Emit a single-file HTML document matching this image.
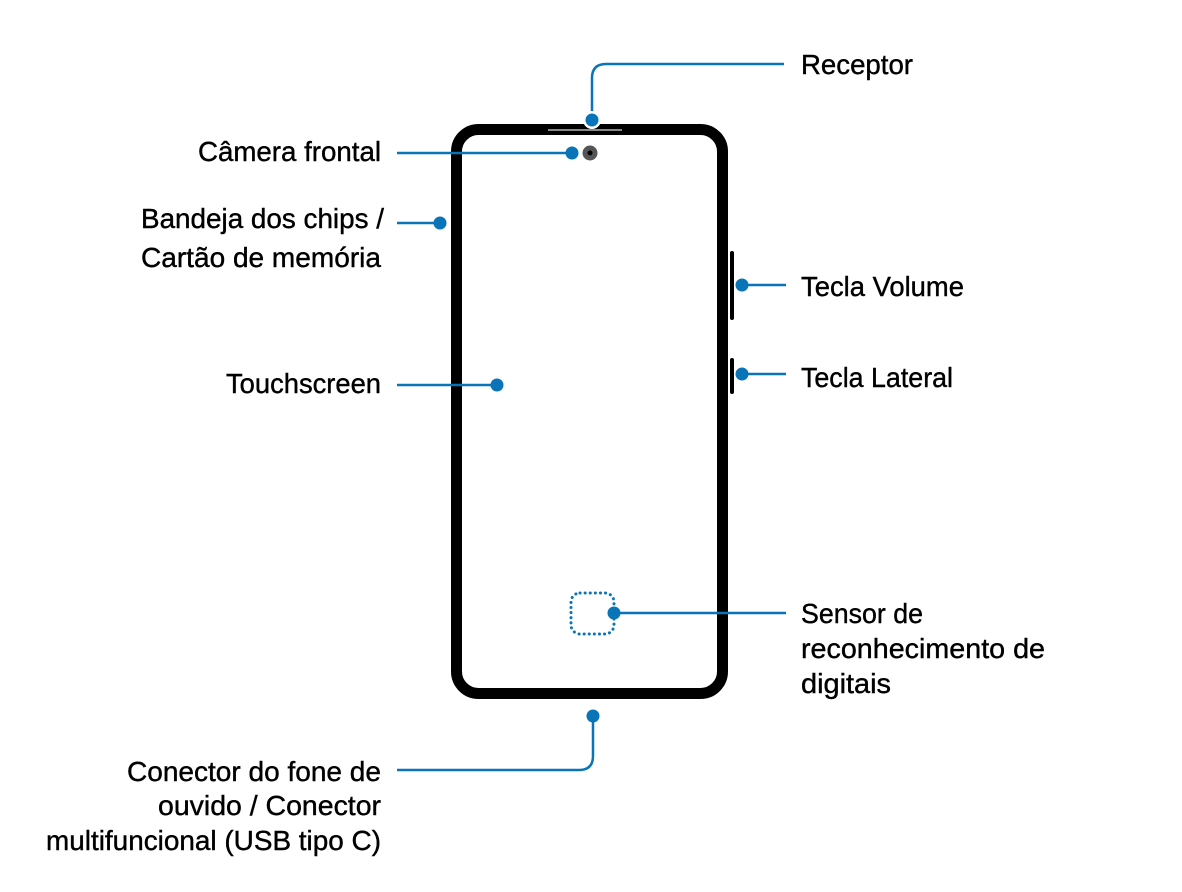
<!DOCTYPE html>
<html><head><meta charset="utf-8"><style>
html,body{margin:0;padding:0;background:#fff;}
svg{display:block;}
text{font-family:"Liberation Sans",sans-serif;font-size:28px;fill:#000;stroke:#000;stroke-width:0.4;}
</style></head><body>
<svg width="1182" height="892" viewBox="0 0 1182 892">
<rect x="456.5" y="129.5" width="266" height="564" rx="22" fill="none" stroke="#000" stroke-width="11"/>
<line x1="548" y1="130" x2="622" y2="130" stroke="#888" stroke-width="2"/>
<rect x="730" y="251" width="4" height="69" rx="2" fill="#000"/>
<rect x="730" y="358" width="4" height="36" rx="2" fill="#000"/>
<circle cx="590" cy="153" r="7.5" fill="#555"/>
<circle cx="590" cy="153" r="2.5" fill="#000"/>
<rect x="571" y="593" width="43" height="41" rx="9" fill="none" stroke="#0a74b8" stroke-width="3" stroke-dasharray="0.1 5" stroke-linecap="round"/>
<g stroke="#0a74b8" stroke-width="2.5" fill="none">
<path d="M784 64 H606 Q592 64 592 78 V120"/>
<path d="M397 153 H570"/>
<path d="M397 223 H440"/>
<path d="M397 385 H497"/>
<path d="M742 285 H786"/>
<path d="M742 374 H786"/>
<path d="M614 613 H786"/>
<path d="M593 716 V756 Q593 770 579 770 H397"/>
</g>
<circle cx="592" cy="120" r="9" fill="#fff"/>
<g fill="#0a74b8">
<circle cx="592" cy="120" r="6.5"/>
<circle cx="572" cy="153" r="6.5"/>
<circle cx="440" cy="223" r="6.5"/>
<circle cx="497" cy="385" r="6.5"/>
<circle cx="742" cy="285" r="6.5"/>
<circle cx="742" cy="374" r="6.5"/>
<circle cx="614" cy="613" r="6.5"/>
<circle cx="593" cy="716" r="6.5"/>
</g>
<text x="801" y="74" textLength="112" lengthAdjust="spacingAndGlyphs">Receptor</text>
<text x="198" y="161" textLength="183" lengthAdjust="spacingAndGlyphs">Câmera frontal</text>
<text x="141" y="228" textLength="243" lengthAdjust="spacingAndGlyphs">Bandeja dos chips /</text>
<text x="141" y="267" textLength="240" lengthAdjust="spacingAndGlyphs">Cartão de memória</text>
<text x="226" y="393" textLength="155" lengthAdjust="spacingAndGlyphs">Touchscreen</text>
<text x="801" y="296" textLength="163" lengthAdjust="spacingAndGlyphs">Tecla Volume</text>
<text x="801" y="387" textLength="152" lengthAdjust="spacingAndGlyphs">Tecla Lateral</text>
<text x="801" y="623" textLength="122" lengthAdjust="spacingAndGlyphs">Sensor de</text>
<text x="801" y="658" textLength="244" lengthAdjust="spacingAndGlyphs">reconhecimento de</text>
<text x="801" y="693" textLength="90" lengthAdjust="spacingAndGlyphs">digitais</text>
<text x="127" y="781" textLength="254" lengthAdjust="spacingAndGlyphs">Conector do fone de</text>
<text x="158" y="815" textLength="223" lengthAdjust="spacingAndGlyphs">ouvido / Conector</text>
<text x="46" y="850" textLength="335" lengthAdjust="spacingAndGlyphs">multifuncional (USB tipo C)</text>
</svg>
</body></html>
